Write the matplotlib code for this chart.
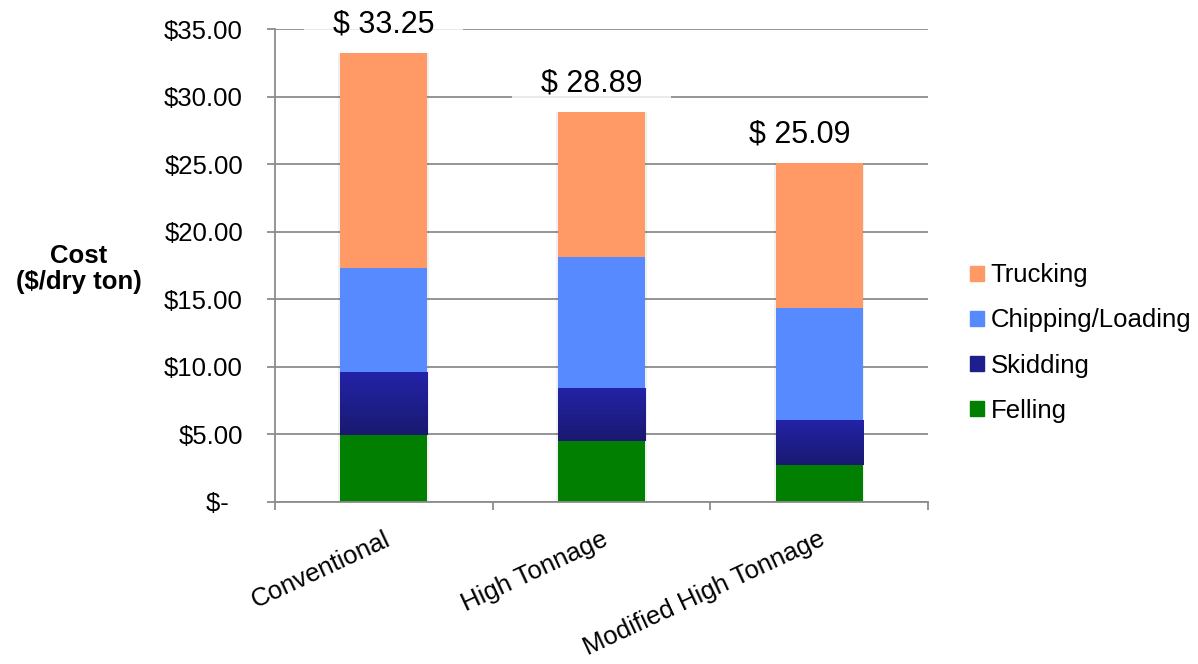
import numpy as np
import matplotlib.pyplot as plt
from matplotlib.patches import Patch
from matplotlib.colors import LinearSegmentedColormap

plt.rcParams['font.family'] = ['Liberation Sans', 'DejaVu Sans']

# cost breakdown per harvesting system ($/dry ton)
systems = ['Conventional', 'High Tonnage', 'Modified High Tonnage']
felling = [4.94, 4.49, 2.72]
skidding = [4.66, 3.93, 3.33]
chipping = [7.72, 9.71, 8.31]
trucking = [15.93, 10.76, 10.73]

y_ticks = [0, 5, 10, 15, 20, 25, 30, 35]
y_tick_labels = ['$-  ', '$5.00', '$10.00', '$15.00', '$20.00', '$25.00', '$30.00', '$35.00']

c_truck = '#FF9966'
c_chip = '#578AFF'
c_skid = '#1E1E8C'
c_fell = '#007F00'
grid_col = '#8c8c8c'

fig = plt.figure(figsize=(11.98, 6.64), dpi=100)
ax = fig.add_axes([0.2295, 0.244, 0.545, 0.7123])

x = np.arange(len(systems)) + 0.5
w = 0.4

felling = np.array(felling)
skidding = np.array(skidding)
chipping = np.array(chipping)
trucking = np.array(trucking)
totals = felling + skidding + chipping + trucking

# faint shadow behind each stack
ax.bar(x, totals, w * 1.04, color='black', alpha=0.06, zorder=1.9)

b_fell = ax.bar(x, felling, w, color=c_fell, zorder=2)
b_skid = ax.bar(x, skidding, w, bottom=felling, color='none', zorder=2)
b_chip = ax.bar(x, chipping, w, bottom=felling + skidding, color=c_chip, zorder=2)
b_truck = ax.bar(x, trucking, w, bottom=felling + skidding + chipping, color=c_truck, zorder=2)

# skidding segments get a vertical gradient fill
skid_cmap = LinearSegmentedColormap.from_list('skid', ['#191970', '#2323A8'])
grad = np.linspace(0, 1, 256).reshape(-1, 1)
for p in b_skid.patches:
    x0, y0 = p.get_x(), p.get_y()
    im = ax.imshow(grad, cmap=skid_cmap, origin='lower', aspect='auto',
                   extent=[x0, x0 + p.get_width(), y0, y0 + p.get_height()], zorder=2)
    im.set_clip_path(p)

# total labels above the bars
dx = [0, -7, -14]
for i, t in enumerate(totals):
    ax.annotate(f'  $ {t:.2f}  ', (x[i], t), xytext=(dx[i], 20.5), textcoords='offset points',
                ha='center', va='center', fontsize=22, zorder=5, annotation_clip=False,
                bbox=dict(boxstyle='square,pad=0.38', fc='white', ec='none', alpha=0.82))

ax.set_xlim(0, 3)
ax.set_ylim(0, 35)
ax.set_yticks(y_ticks)
ax.set_yticklabels(y_tick_labels)
ax.yaxis.grid(True, color=grid_col, lw=1.3)
ax.set_axisbelow(True)

ax.set_xticks([0, 1, 2, 3])
ax.set_xticklabels([])
ax.set_xticks(x, minor=True)
ax.set_xticklabels(systems, minor=True, rotation=25, ha='right', rotation_mode='anchor')
ax.tick_params(axis='x', which='major', length=6, width=1.3, color=grid_col, direction='out')
ax.tick_params(axis='x', which='minor', length=0, pad=18, labelsize=18.5)
ax.tick_params(axis='y', length=6, width=1.3, color=grid_col, pad=17, labelsize=18.5)

for s in ['top', 'right']:
    ax.spines[s].set_visible(False)
for s in ['left', 'bottom']:
    ax.spines[s].set_color(grid_col)
    ax.spines[s].set_linewidth(1.3)

fig.text(0.0655, 0.595, 'Cost\n($/dry ton)', ha='center', va='center',
         fontsize=18.5, fontweight='bold', linespacing=1.1)

handles = [Patch(color=c_truck), Patch(color=c_chip), Patch(color=c_skid), Patch(color=c_fell)]
ax.legend(handles, ['Trucking', 'Chipping/Loading', 'Skidding', 'Felling'],
          loc='center left', bbox_to_anchor=(0.8097, 0.4834), bbox_transform=fig.transFigure,
          frameon=False, fontsize=18.5, handlelength=0.55, handleheight=0.55,
          handletextpad=0.25, labelspacing=0.82, borderpad=0, borderaxespad=0)

fig.savefig('out.png', dpi=100)
